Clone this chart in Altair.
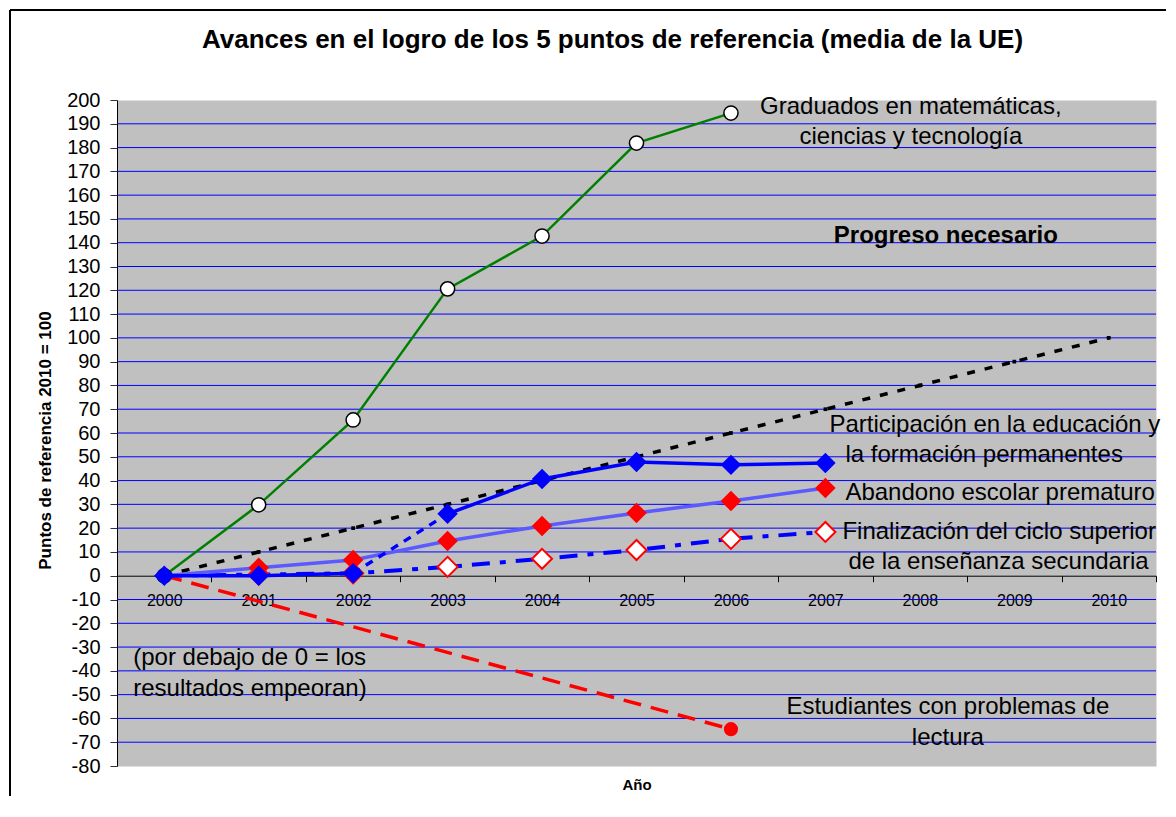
import altair as alt
import pandas as pd

# ---------------- data ----------------
years = ["2000", "2001", "2002", "2003", "2004", "2005", "2006", "2007", "2008", "2009", "2010"]

graduados_years = ["2000", "2001", "2002", "2003", "2004", "2005", "2006"]
graduados = [0, 29.8, 65.5, 120.6, 142.8, 181.9, 194.5]

progreso_years = years
progreso = [0, 10, 20, 30, 40, 50, 60, 70, 80, 90, 100]

serie_years = ["2000", "2001", "2002", "2003", "2004", "2005", "2006", "2007"]
participacion = [0, 0, 1, 26, 40.7, 47.8, 46.6, 47.4]
abandono = [0, 3.3, 6.6, 14.6, 20.9, 26.4, 31.4, 36.9]
finalizacion = [0, 0.5, 1, 3.7, 7.1, 10.8, 15.5, 18.4]

lectura_years = ["2000", "2006"]
lectura = [0, -64.5]

y_ticks = list(range(-80, 201, 10))
grid_values = [v for v in y_ticks if v not in (-80, 0, 200)]

ann_text = [
    "Graduados en matemáticas,", "ciencias y tecnología", "Progreso necesario",
    "Participación en la educación y", "la formación permanentes",
    "Abandono escolar prematuro",
    "Finalización del ciclo superior", "de la enseñanza secundaria",
    "(por debajo de 0 = los", "resultados empeoran)",
    "Estudiantes con problemas de", "lectura",
]
ann_year = ["2008", "2008", "2008", "2007", "2007", "2007", "2007", "2007",
            "2000", "2000", "2008", "2008"]
ann_value = [194.1, 181.5, 139.7, 60.4, 47.6, 31.7, 15.3, 2.7, -37.5, -50.6, -58.1, -71.1]

# ---------------- styles ----------------
ann_align = ["center", "center", "center", "left", "left", "left", "left", "left",
             "left", "left", "center", "center"]
ann_dx = [-9, -9, 26, 4, 20, 20, 17, 23, -31, -31, 28, 28]
ann_bold = [False, False, True, False, False, False, False, False, False, False, False, False]

FONT = "Liberation Sans"
W, H = 1039, 666
zero_offset = -(H - H * (200 / 280))

xscale = alt.Scale(domain=years, type="band", paddingInner=0, paddingOuter=0)
xaxis = alt.Axis(
    title="Año", orient="bottom", offset=zero_offset, tickBand="extent",
    domainColor="black", domainWidth=1, tickColor="black", tickSize=6,
    labelFontSize=16, labelColor="black", labelFont=FONT, labelPadding=11,
    labelAngle=0, grid=False,
    titleFont=FONT, titleFontSize=15, titleFontWeight="bold", titleColor="black",
    titleY=209, titleBaseline="middle",
)
yscale = alt.Scale(domain=[-80, 200], nice=False, zero=False)
yaxis = alt.Axis(
    title="Puntos de referencia 2010 = 100", values=y_ticks, grid=False,
    domainColor="black", domainWidth=1, tickColor="#333333", tickSize=7,
    labelFontSize=20, labelColor="black", labelFont=FONT, labelPadding=10,
    labelOverlap=False, labelExpr="'' + datum.value",
    titleFont=FONT, titleFontSize=17, titleFontWeight="bold", titleColor="black",
    titleX=-72, titleY=340, titleBaseline="middle", titleAngle=270,
)


def X():
    return alt.X("year:N", scale=xscale, axis=xaxis)


def Y(field):
    return alt.Y(f"{field}:Q", scale=yscale, axis=yaxis)


# ---------------- frames ----------------
df_grad = pd.DataFrame({"year": graduados_years, "v": graduados})
df_prog = pd.DataFrame({"year": progreso_years, "v": progreso})
df_part = pd.DataFrame({"year": serie_years, "v": participacion})
df_aband = pd.DataFrame({"year": serie_years, "v": abandono})
df_fin = pd.DataFrame({"year": serie_years, "v": finalizacion})
df_lect = pd.DataFrame({"year": lectura_years, "v": lectura})
df_grid = pd.DataFrame({"g": grid_values})
df_one = pd.DataFrame({"k": [0]})

# participación: gap 2002->2003 is a dotted segment
seg_rows = []
for i, (yr, v) in enumerate(zip(serie_years, participacion)):
    if i <= 2:
        seg_rows.append({"year": yr, "v": v, "seg": "a"})
    if i >= 3:
        seg_rows.append({"year": yr, "v": v, "seg": "c"})
df_part_solid = pd.DataFrame(seg_rows)
df_part_dot = df_part[df_part["year"].isin(["2002", "2003"])]

# ---------------- layers ----------------
grid = alt.Chart(df_grid).mark_rule(color="#0000FF", strokeWidth=1).encode(y=Y("g"))

frame_left = alt.Chart(df_one).mark_rule(color="black", strokeWidth=2).encode(
    x=alt.value(-107), y=alt.value(-90), y2=alt.value(720))
frame_top = alt.Chart(df_one).mark_rule(color="black", strokeWidth=2).encode(
    y=alt.value(-90), x=alt.value(-107), x2=alt.value(1060))

grad_line = alt.Chart(df_grad).mark_line(color="#008000", strokeWidth=2.5).encode(x=X(), y=Y("v"))
grad_pts = alt.Chart(df_grad).mark_point(
    shape="circle", filled=True, fill="white", stroke="black", strokeWidth=1.5,
    size=200, opacity=1).encode(x=X(), y=Y("v"))

prog_line = alt.Chart(df_prog).mark_line(
    color="black", strokeWidth=3.5, strokeDash=[8, 10]).encode(x=X(), y=Y("v"))
prog_pts = alt.Chart(df_prog[df_prog["year"] != "2000"]).mark_point(
    shape="square", filled=True, color="black", size=14, opacity=1).encode(x=X(), y=Y("v"))

lect_line = alt.Chart(df_lect).mark_line(
    color="#FF0000", strokeWidth=3.5, strokeDash=[18, 10]).encode(x=X(), y=Y("v"))
lect_pt = alt.Chart(df_lect[df_lect["year"] == "2006"]).mark_point(
    shape="circle", filled=True, color="#FF0000", size=200, opacity=1).encode(x=X(), y=Y("v"))

fin_line = alt.Chart(df_fin).mark_line(
    color="#0000FF", strokeWidth=4, strokeDash=[18, 10, 6, 10]).encode(x=X(), y=Y("v"))
fin_pts = alt.Chart(df_fin[df_fin["year"] != "2000"]).mark_point(
    shape="diamond", filled=True, fill="white", stroke="#FF0000", strokeWidth=2,
    size=400, opacity=1).encode(x=X(), y=Y("v"))

aband_line = alt.Chart(df_aband).mark_line(color="#5A5AFF", strokeWidth=3.5).encode(x=X(), y=Y("v"))
aband_pts = alt.Chart(df_aband[df_aband["year"] != "2000"]).mark_point(
    shape="diamond", filled=True, color="#FF0000", size=420, opacity=1).encode(x=X(), y=Y("v"))

part_dot = alt.Chart(df_part_dot).mark_line(
    color="#0000FF", strokeWidth=3.5, strokeDash=[8, 7]).encode(x=X(), y=Y("v"))
part_line = alt.Chart(df_part_solid).mark_line(color="#0000FF", strokeWidth=3.5).encode(
    x=X(), y=Y("v"), detail="seg:N")
part_pts = alt.Chart(df_part).mark_point(
    shape="diamond", filled=True, color="#0000FF", size=420, opacity=1).encode(x=X(), y=Y("v"))

layers = [grid, frame_left, frame_top, grad_line, grad_pts, prog_line, prog_pts,
          lect_line, lect_pt, fin_line, fin_pts, aband_line, aband_pts,
          part_dot, part_line, part_pts]

for t, yr, val, al, dx, bold in zip(ann_text, ann_year, ann_value, ann_align, ann_dx, ann_bold):
    df_t = pd.DataFrame({"t": [t], "year": [yr], "v": [val]})
    layers.append(
        alt.Chart(df_t).mark_text(
            align=al, baseline="alphabetic", dx=dx, font=FONT, fontSize=24,
            fontWeight="bold" if bold else "normal", color="black",
        ).encode(x=X(), y=Y("v"), text="t:N")
    )

chart = alt.layer(*layers).properties(
    width=W, height=H,
    title=alt.Title(
        "Avances en el logro de los 5 puntos de referencia (media de la UE)",
        font=FONT, fontSize=26, fontWeight="bold", color="black",
        anchor="middle", frame="group", dx=-24, offset=-44,
    ),
    autosize=alt.AutoSizeParams(type="none"),
    padding={"left": 109, "top": 92, "right": 10, "bottom": 30},
).configure_view(fill="#C0C0C0", stroke="transparent")

chart.save("out.html", embed_options={"renderer": "svg", "actions": False})
